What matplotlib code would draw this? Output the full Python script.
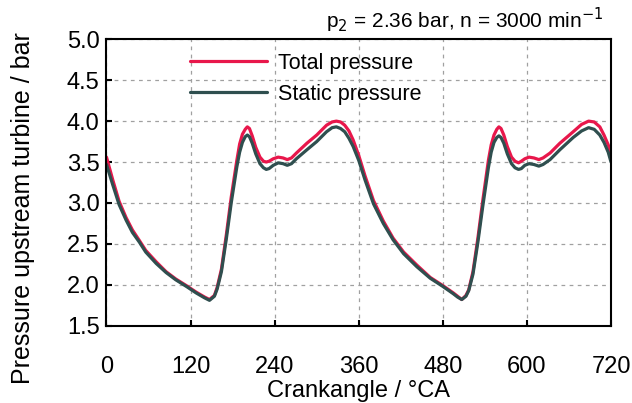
import matplotlib

matplotlib.use("Agg")
import matplotlib.pyplot as plt

FONT = ["Liberation Sans", "DejaVu Sans"]
plt.rcParams["font.family"] = FONT

# crank angle in degCA, shared by both traces
angle = [0, 9, 18, 28, 37, 47, 56, 71, 85, 99,
         114, 128, 140, 147, 154, 158, 164, 171, 178, 186,
         190, 194, 198, 201, 204, 208, 213, 219, 224, 228,
         232, 238, 245, 252, 258, 264, 271, 286, 300, 314,
         322, 328, 334, 340, 346, 352, 360, 369, 381, 395,
         409, 424, 443, 462, 480, 495, 501, 507, 513, 517,
         523, 530, 537, 545, 549, 553, 557, 560, 563, 567,
         572, 578, 583, 588, 592, 597, 603, 610, 617, 623,
         633, 647, 666, 678, 688, 696, 704, 710, 716, 720]

total_pressure = [3.56, 3.28, 3.02, 2.82, 2.67, 2.54, 2.42, 2.28, 2.16, 2.07,
                  1.99, 1.91, 1.85, 1.82, 1.87, 1.97, 2.19, 2.61, 3.07, 3.52,
                  3.72, 3.84, 3.90, 3.93, 3.91, 3.82, 3.68, 3.56, 3.51, 3.50,
                  3.51, 3.54, 3.56, 3.55, 3.53, 3.55, 3.61, 3.73, 3.83, 3.95,
                  3.99, 4.00, 3.99, 3.95, 3.88, 3.77, 3.58, 3.33, 3.03, 2.78,
                  2.57, 2.40, 2.24, 2.09, 1.99, 1.90, 1.86, 1.82, 1.87, 1.94,
                  2.16, 2.57, 3.03, 3.52, 3.71, 3.83, 3.90, 3.93, 3.91, 3.83,
                  3.69, 3.56, 3.51, 3.49, 3.51, 3.54, 3.56, 3.55, 3.53, 3.55,
                  3.61, 3.73, 3.87, 3.96, 4.00, 3.99, 3.93, 3.83, 3.71, 3.60]

static_pressure = [3.47, 3.22, 2.98, 2.79, 2.64, 2.52, 2.40, 2.26, 2.15, 2.06,
                   1.98, 1.90, 1.84, 1.81, 1.86, 1.95, 2.16, 2.56, 3.00, 3.44,
                   3.62, 3.74, 3.81, 3.83, 3.81, 3.73, 3.60, 3.48, 3.43, 3.41,
                   3.42, 3.46, 3.49, 3.48, 3.46, 3.48, 3.54, 3.65, 3.75, 3.87,
                   3.92, 3.93, 3.91, 3.87, 3.79, 3.69, 3.52, 3.28, 2.99, 2.75,
                   2.55, 2.38, 2.22, 2.08, 1.98, 1.89, 1.85, 1.82, 1.86, 1.93,
                   2.13, 2.52, 2.96, 3.43, 3.62, 3.74, 3.80, 3.82, 3.80, 3.73,
                   3.60, 3.48, 3.43, 3.41, 3.42, 3.46, 3.48, 3.47, 3.45, 3.47,
                   3.53, 3.65, 3.80, 3.88, 3.92, 3.90, 3.83, 3.74, 3.62, 3.50]

x_ticks = [0, 120, 240, 360, 480, 600, 720]
y_ticks = [1.5, 2.0, 2.5, 3.0, 3.5, 4.0, 4.5, 5.0]

fig = plt.figure(figsize=(6.32, 4.03), dpi=100)
ax = fig.add_axes([0.1685, 0.1918, 0.7983, 0.7107])

ax.plot(angle, total_pressure, color="#e8174b", lw=2.3, label="Total pressure",
        solid_joinstyle="round", solid_capstyle="round")
ax.plot(angle, static_pressure, color="#2f4f4f", lw=2.3, label="Static pressure",
        solid_joinstyle="round", solid_capstyle="round")

ax.set_xlim(0, 720)
ax.set_ylim(1.5, 5.0)
ax.set_xticks(x_ticks)
ax.set_yticks(y_ticks)
ax.set_yticklabels([f"{v:.1f}" for v in y_ticks])
ax.grid(True, color="#a0a0a0", lw=0.9, linestyle=(0, (3, 3.5)))
ax.set_axisbelow(True)

ax.tick_params(axis="both", direction="in", length=4.5, width=1.5,
               labelsize=17, colors="black")
ax.tick_params(axis="x", pad=22)
ax.tick_params(axis="y", pad=5)
for spine in ax.spines.values():
    spine.set_linewidth(1.5)

ax.set_xlabel("Crankangle / °CA", fontsize=17, labelpad=1)
ax.set_ylabel("Pressure upstream turbine / bar", fontsize=18)
# label sits a bit below the axes centre in the original
ax.yaxis.set_label_coords(-0.142, 0.41)

ax.text(0.985, 1.015, r"p$_2$ = 2.36 bar, n = 3000 min$^{-1}$", fontsize=15,
        ha="right", va="bottom", transform=ax.transAxes)

ax.legend(loc="center left", bbox_to_anchor=(0.1655, 0.8625), frameon=False,
          fontsize=15.5, borderpad=0, borderaxespad=0, handlelength=3.6,
          handletextpad=0.5, labelspacing=0.45)

fig.savefig("out.png", dpi=100)
